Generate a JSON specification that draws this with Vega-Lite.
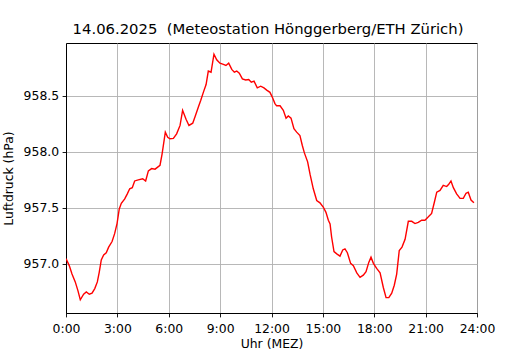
{
  "$schema": "https://vega.github.io/schema/vega-lite/v6.json",
  "width": 411,
  "height": 270,
  "autosize": {"type": "none"},
  "padding": {"left": 66, "top": 43, "right": 53, "bottom": 37},
  "background": "white",
  "title": {
    "text": "14.06.2025\u00a0 (Meteostation Hönggerberg/ETH Zürich)",
    "font": "DejaVu Sans",
    "fontSize": 14.8,
    "fontWeight": "normal",
    "color": "black",
    "anchor": "middle",
    "baseline": "alphabetic",
    "offset": -6,
    "dx": -3.5
  },
  "config": {
    "view": {"stroke": "black", "strokeWidth": 1},
    "axis": {
      "labelFont": "DejaVu Sans",
      "labelFontSize": 12.4,
      "labelColor": "black",
      "titleFont": "DejaVu Sans",
      "titleFontSize": 12.4,
      "titleFontWeight": "normal",
      "titleColor": "black",
      "gridColor": "#b0b0b0",
      "gridWidth": 0.9,
      "gridOpacity": 1,
      "tickColor": "black",
      "tickSize": 3.9,
      "tickWidth": 0.9,
      "domainColor": "black",
      "domainWidth": 1,
      "labelPadding": 3.5
    }
  },
  "data": {
    "values": [
      {"h": 0.0, "p": 957.047},
      {"h": 0.19, "p": 956.985},
      {"h": 0.35, "p": 956.91},
      {"h": 0.54, "p": 956.84},
      {"h": 0.70, "p": 956.76},
      {"h": 0.835, "p": 956.68},
      {"h": 1.03, "p": 956.73},
      {"h": 1.185, "p": 956.75},
      {"h": 1.36, "p": 956.73},
      {"h": 1.52, "p": 956.74},
      {"h": 1.68, "p": 956.78},
      {"h": 1.83, "p": 956.84},
      {"h": 1.94, "p": 956.925},
      {"h": 2.06, "p": 957.036},
      {"h": 2.20, "p": 957.08},
      {"h": 2.35, "p": 957.10},
      {"h": 2.49, "p": 957.15},
      {"h": 2.69, "p": 957.20},
      {"h": 2.84, "p": 957.27},
      {"h": 2.98, "p": 957.36},
      {"h": 3.11, "p": 957.49},
      {"h": 3.23, "p": 957.54},
      {"h": 3.43, "p": 957.58},
      {"h": 3.58, "p": 957.625},
      {"h": 3.72, "p": 957.67},
      {"h": 3.87, "p": 957.68},
      {"h": 4.01, "p": 957.74},
      {"h": 4.22, "p": 957.75},
      {"h": 4.48, "p": 957.76},
      {"h": 4.65, "p": 957.74},
      {"h": 4.81, "p": 957.83},
      {"h": 5.00, "p": 957.85},
      {"h": 5.20, "p": 957.845},
      {"h": 5.49, "p": 957.88},
      {"h": 5.61, "p": 957.98},
      {"h": 5.80, "p": 958.175},
      {"h": 5.94, "p": 958.13},
      {"h": 6.07, "p": 958.116},
      {"h": 6.27, "p": 958.12},
      {"h": 6.46, "p": 958.16},
      {"h": 6.66, "p": 958.235},
      {"h": 6.81, "p": 958.37},
      {"h": 7.01, "p": 958.29},
      {"h": 7.18, "p": 958.235},
      {"h": 7.40, "p": 958.255},
      {"h": 7.53, "p": 958.31},
      {"h": 7.73, "p": 958.40},
      {"h": 7.87, "p": 958.46},
      {"h": 8.02, "p": 958.53},
      {"h": 8.18, "p": 958.60},
      {"h": 8.31, "p": 958.72},
      {"h": 8.47, "p": 958.71},
      {"h": 8.64, "p": 958.87},
      {"h": 8.80, "p": 958.82},
      {"h": 8.99, "p": 958.79},
      {"h": 9.19, "p": 958.78},
      {"h": 9.34, "p": 958.77},
      {"h": 9.50, "p": 958.79},
      {"h": 9.68, "p": 958.735},
      {"h": 9.83, "p": 958.71},
      {"h": 9.97, "p": 958.72},
      {"h": 10.12, "p": 958.70},
      {"h": 10.30, "p": 958.65},
      {"h": 10.49, "p": 958.64},
      {"h": 10.67, "p": 958.645},
      {"h": 10.82, "p": 958.62},
      {"h": 10.98, "p": 958.63},
      {"h": 11.17, "p": 958.57},
      {"h": 11.37, "p": 958.585},
      {"h": 11.56, "p": 958.57},
      {"h": 11.72, "p": 958.55},
      {"h": 11.91, "p": 958.53},
      {"h": 12.07, "p": 958.48},
      {"h": 12.20, "p": 958.43},
      {"h": 12.30, "p": 958.41},
      {"h": 12.50, "p": 958.41},
      {"h": 12.69, "p": 958.37},
      {"h": 12.85, "p": 958.30},
      {"h": 12.98, "p": 958.32},
      {"h": 13.14, "p": 958.30},
      {"h": 13.31, "p": 958.205},
      {"h": 13.47, "p": 958.175},
      {"h": 13.66, "p": 958.145},
      {"h": 13.80, "p": 958.056},
      {"h": 13.92, "p": 957.99},
      {"h": 14.11, "p": 957.91},
      {"h": 14.25, "p": 957.80},
      {"h": 14.44, "p": 957.67},
      {"h": 14.64, "p": 957.565},
      {"h": 14.83, "p": 957.545},
      {"h": 15.03, "p": 957.505},
      {"h": 15.18, "p": 957.46},
      {"h": 15.32, "p": 957.39},
      {"h": 15.42, "p": 957.357},
      {"h": 15.51, "p": 957.24},
      {"h": 15.65, "p": 957.11},
      {"h": 15.81, "p": 957.09},
      {"h": 16.00, "p": 957.07},
      {"h": 16.16, "p": 957.125},
      {"h": 16.29, "p": 957.134},
      {"h": 16.43, "p": 957.10},
      {"h": 16.62, "p": 957.005},
      {"h": 16.78, "p": 956.985},
      {"h": 16.98, "p": 956.92},
      {"h": 17.17, "p": 956.88},
      {"h": 17.36, "p": 956.90},
      {"h": 17.52, "p": 956.93},
      {"h": 17.68, "p": 957.014},
      {"h": 17.81, "p": 957.06},
      {"h": 17.95, "p": 957.005},
      {"h": 18.14, "p": 956.96},
      {"h": 18.34, "p": 956.92},
      {"h": 18.53, "p": 956.79},
      {"h": 18.69, "p": 956.70},
      {"h": 18.85, "p": 956.70},
      {"h": 19.02, "p": 956.74},
      {"h": 19.17, "p": 956.81},
      {"h": 19.31, "p": 956.91},
      {"h": 19.46, "p": 957.12},
      {"h": 19.62, "p": 957.15},
      {"h": 19.80, "p": 957.22},
      {"h": 19.99, "p": 957.38},
      {"h": 20.19, "p": 957.38},
      {"h": 20.38, "p": 957.36},
      {"h": 20.57, "p": 957.37},
      {"h": 20.77, "p": 957.39},
      {"h": 20.96, "p": 957.39},
      {"h": 21.16, "p": 957.42},
      {"h": 21.35, "p": 957.45},
      {"h": 21.51, "p": 957.55},
      {"h": 21.65, "p": 957.64},
      {"h": 21.84, "p": 957.655},
      {"h": 22.03, "p": 957.70},
      {"h": 22.23, "p": 957.69},
      {"h": 22.35, "p": 957.71},
      {"h": 22.48, "p": 957.74},
      {"h": 22.62, "p": 957.68},
      {"h": 22.81, "p": 957.625},
      {"h": 23.01, "p": 957.585},
      {"h": 23.20, "p": 957.585},
      {"h": 23.36, "p": 957.63},
      {"h": 23.49, "p": 957.64},
      {"h": 23.65, "p": 957.57},
      {"h": 23.82, "p": 957.545}
    ]
  },
  "mark": {"type": "line", "color": "red", "strokeWidth": 1.4, "clip": true},
  "encoding": {
    "x": {
      "field": "h",
      "type": "quantitative",
      "scale": {"domain": [0, 24], "nice": false, "zero": false},
      "axis": {
        "title": "Uhr (MEZ)",
        "values": [0, 3, 6, 9, 12, 15, 18, 21, 24],
        "labelExpr": "datum.value + ':00'",
        "labelFlush": false,
        "labelPadding": 5.5,
        "titleY": 34.5,
        "titleBaseline": "alphabetic"
      }
    },
    "y": {
      "field": "p",
      "type": "quantitative",
      "scale": {"domain": [956.5625, 958.97], "nice": false, "zero": false},
      "axis": {
        "title": "Luftdruck (hPa)",
        "values": [957.0, 957.5, 958.0, 958.5],
        "format": ".1f",
        "titleX": -58,
        "titleY": 135,
        "titleAngle": -90,
        "titleAlign": "center",
        "titleBaseline": "middle"
      }
    }
  }
}
